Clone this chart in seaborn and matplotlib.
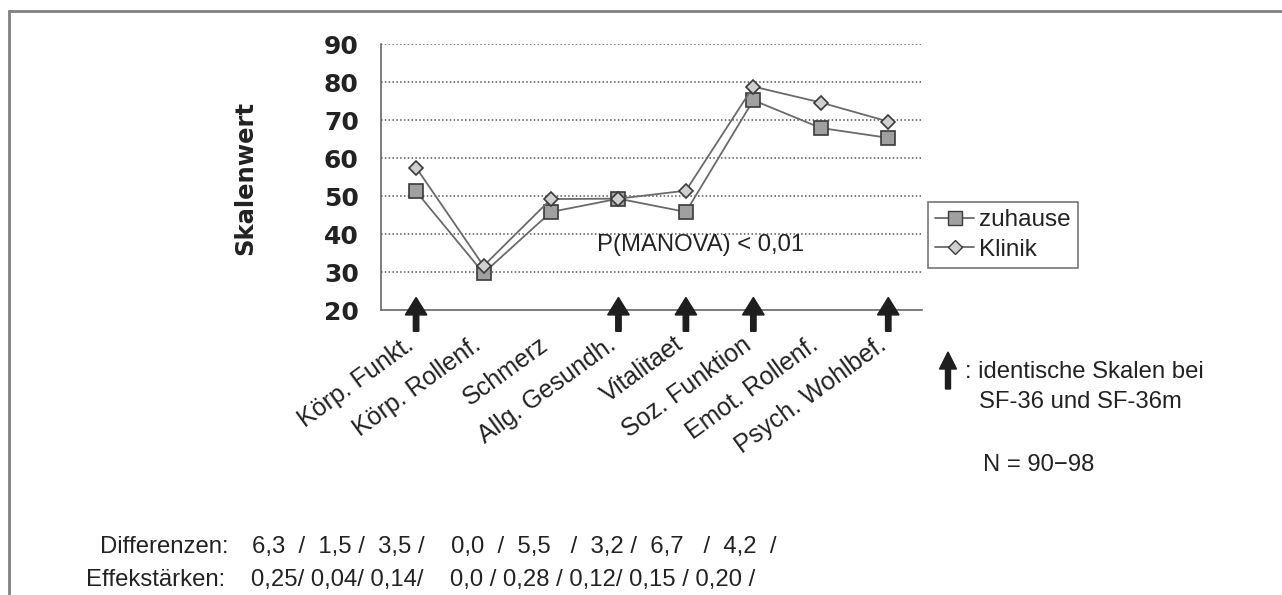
import numpy as np
import pandas as pd
import matplotlib
matplotlib.use("Agg")
import matplotlib.pyplot as plt
import matplotlib.patches as mpatches
import matplotlib.transforms as mtransforms
from matplotlib.lines import Line2D
import seaborn as sns

# data
skalen = ["Körp. Funkt.", "Körp. Rollenf.", "Schmerz", "Allg. Gesundh.",
          "Vitalitaet", "Soz. Funktion", "Emot. Rollenf.", "Psych. Wohlbef."]
zuhause = [51.2, 29.7, 45.8, 49.3, 45.8, 75.2, 67.9, 65.3]
klinik = [57.5, 31.6, 49.2, 49.3, 51.4, 78.8, 74.6, 69.6]
identisch = [True, False, False, True, True, True, False, True]
differenzen = ["6,3", "1,5", "3,5", "0,0", "5,5", "3,2", "6,7", "4,2"]
effektstaerken = ["0,25", "0,04", "0,14", "0,0", "0,28", "0,12", "0,15", "0,20"]
diff_sep = ["  /  ", " /  ", " /    ", "  /  ", "   /  ", " /  ", "   /  ", "  /"]
eff_sep = ["/ ", "/ ", "/    ", " / ", " / ", "/ ", " / ", " /"]

df = pd.DataFrame({"pos": np.arange(len(skalen)), "skala": skalen,
                   "zuhause": zuhause, "Klinik": klinik})

sns.set_style("white")
plt.rcParams["font.family"] = ["Liberation Sans", "DejaVu Sans"]

W, H = 1282, 595
FS = 17.2
TXT = "#222"
fig = plt.figure(figsize=(W / 100, H / 100), dpi=100)
ax = fig.add_axes([381 / W, 1 - 310 / H, (922 - 381) / W, (310 - 44) / H])

line_col = "#6a6a6a"
edge_col = "#3a3a3a"
sns.lineplot(data=df, x="pos", y="zuhause", ax=ax, color=line_col, lw=1.3,
             marker="s", markersize=10, markerfacecolor="#a0a0a0",
             markeredgecolor=edge_col, markeredgewidth=1.2, zorder=3)
sns.lineplot(data=df, x="pos", y="Klinik", ax=ax, color=line_col, lw=1.3,
             marker="D", markersize=7, markerfacecolor="#cfcfcf",
             markeredgecolor=edge_col, markeredgewidth=1.2, zorder=4)

ax.set_xlim(-0.52, 7.5)
ax.set_ylim(20, 90)
ax.set_yticks(range(20, 91, 10))
ax.set_xticks(df["pos"])
ax.set_xticklabels(skalen, rotation=36, ha="right", va="center",
                   rotation_mode="anchor", fontsize=18, color=TXT)
ax.tick_params(axis="x", direction="inout", length=12, width=1,
               color="#666", pad=17)
ax.tick_params(axis="y", direction="out", length=6, width=1, color="#666",
               pad=10)
shift = mtransforms.ScaledTranslation(-0.05, 0, fig.dpi_scale_trans)
for lab in ax.get_xticklabels():
    lab.set_transform(lab.get_transform() + shift)
for lab in ax.get_yticklabels():
    lab.set_fontfamily("DejaVu Sans")
    lab.set_fontweight("bold")
    lab.set_fontsize(18)
    lab.set_color(TXT)
ax.set_xlabel("")
ax.set_ylabel("")
for g in range(30, 91, 10):
    ax.axhline(g, color="#555", lw=1.1, ls=(0, (1, 1.5)), zorder=1)
for s in ["top", "right"]:
    ax.spines[s].set_visible(False)
for s in ["left", "bottom"]:
    ax.spines[s].set_color("#666")
    ax.spines[s].set_linewidth(1.2)

# arrows for scales identical in SF-36 and SF-36m
for p, ident in zip(df["pos"], identisch):
    if ident:
        ax.add_patch(mpatches.FancyArrow(p, 14.4, 0, 8.9, width=0.08,
                                         head_width=0.32, head_length=4.6,
                                         length_includes_head=True,
                                         color="#1e1e1e", clip_on=False,
                                         zorder=5))

ax.text(4.22, 37.0, "P(MANOVA) < 0,01", ha="center", va="center",
        fontsize=FS, color=TXT)

fig.text(245 / W, 1 - 178 / H, "Skalenwert", rotation=90, ha="center",
         va="center", fontsize=17.5, fontweight="bold", family="DejaVu Sans",
         color=TXT)

handles = [Line2D([], [], color=line_col, lw=1.3, marker="s", markersize=10,
                  markerfacecolor="#a0a0a0", markeredgecolor=edge_col),
           Line2D([], [], color=line_col, lw=1.3, marker="D", markersize=7,
                  markerfacecolor="#cfcfcf", markeredgecolor=edge_col)]
leg = fig.legend(handles, ["zuhause", "Klinik"], loc="upper left",
                 bbox_to_anchor=(928 / W, 1 - 202 / H), fontsize=17.5,
                 frameon=True, fancybox=False, handlelength=1.6,
                 handletextpad=0.2, borderpad=0.3, labelspacing=0.3,
                 borderaxespad=0)
leg.get_frame().set_edgecolor("#555")
leg.get_frame().set_linewidth(1.2)
for t in leg.get_texts():
    t.set_color(TXT)

# note with arrow
fig.patches.append(mpatches.FancyArrow(948 / W, 1 - 389 / H, 0, 37 / H,
                                       width=5 / W, head_width=17 / W,
                                       head_length=17 / H,
                                       length_includes_head=True,
                                       color="#1e1e1e",
                                       transform=fig.transFigure))
fig.text(965 / W, 1 - 372 / H, ": identische Skalen bei", ha="left",
         va="center", fontsize=FS, color=TXT)
fig.text(979 / W, 1 - 402 / H, "SF-36 und SF-36m", ha="left",
         va="center", fontsize=FS, color=TXT)
fig.text(983 / W, 1 - 465 / H, "N = 90\u221298", ha="left",
         va="center", fontsize=FS, color=TXT)

# rows below the chart
diff_txt = "".join(v + s for v, s in zip(differenzen, diff_sep))
eff_txt = "".join(v + s for v, s in zip(effektstaerken, eff_sep))
fig.text(229 / W, 1 - 547 / H, "Differenzen:", ha="right", va="center",
         fontsize=FS, color=TXT)
fig.text(252 / W, 1 - 547 / H, diff_txt, ha="left", va="center",
         fontsize=FS, color=TXT)
fig.text(86 / W, 1 - 580 / H, "Effekstärken:", ha="left", va="center",
         fontsize=FS, color=TXT)
fig.text(251 / W, 1 - 580 / H, eff_txt, ha="left", va="center",
         fontsize=FS, color=TXT)

# frame lines of the figure
fig.add_artist(Line2D([9 / W, 1], [1 - 11 / H, 1 - 11 / H],
                      transform=fig.transFigure, color="#808080", lw=2))
fig.add_artist(Line2D([9 / W, 9 / W], [0, 1 - 11 / H],
                      transform=fig.transFigure, color="#808080", lw=2))

fig.savefig("out.png", dpi=100, facecolor="white")
